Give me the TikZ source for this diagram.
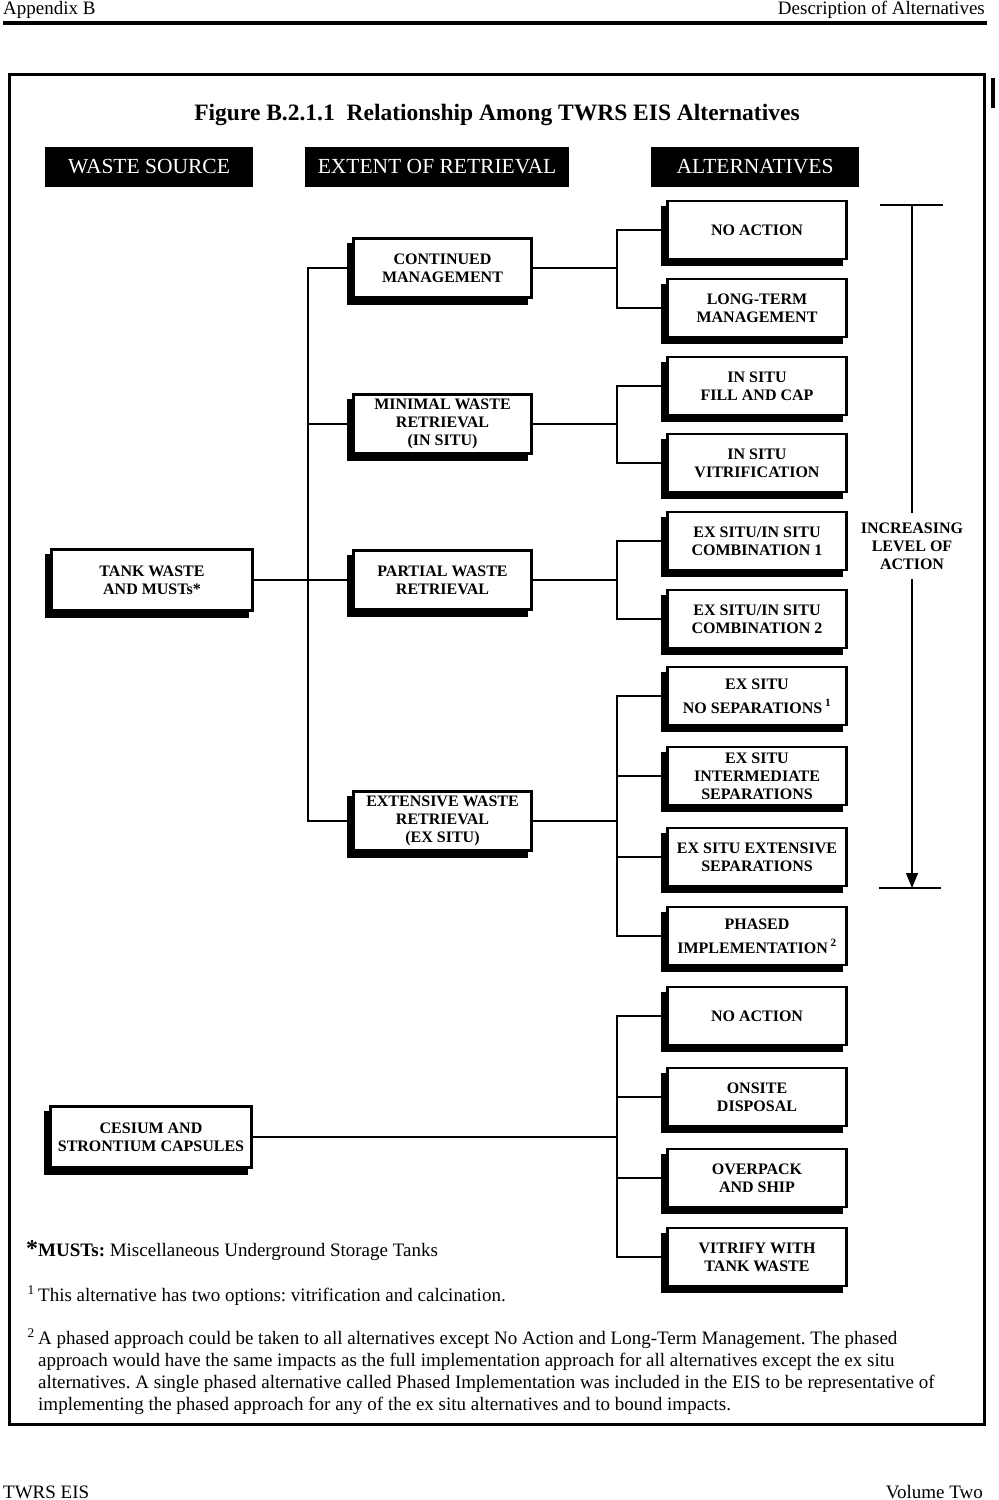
\documentclass[tikz,border=0pt]{standalone}
\usepackage{fontspec}
\setmainfont{Liberation Serif}
\usetikzlibrary{shadows,arrows.meta}
\frenchspacing
\begin{document}
\begin{tikzpicture}[x=1pt,y=-1pt,
  boxbase/.style={draw, line width=2.6pt, fill=white, align=center, inner sep=0pt,
    font=\fontsize{16}{18}\selectfont\bfseries,
    general shadow={fill=black, draw=black, line width=2.6pt, shadow xshift=-5pt, shadow yshift=-6pt}},
  altbox/.style={boxbase, minimum width=179pt, minimum height=58pt},
  retbox/.style={boxbase, minimum width=178pt, minimum height=59pt},
  srcbox/.style={boxbase, minimum width=201pt, minimum height=61pt},
  hdrbox/.style={fill=black, text=white, inner sep=0pt, minimum height=40pt,
    font=\fontsize{21.5}{24}\selectfont},
  conn/.style={line width=2.4pt, line cap=rect, line join=miter},
  thinln/.style={line width=1.2pt},
  pagetxt/.style={inner sep=0pt, font=\fontsize{19}{22}\selectfont},
]
\useasboundingbox (0,0) rectangle (999,1500);
% page header and footer
\node[pagetxt, anchor=base west] (ph1) at (3,14) {Appendix B};
\node[pagetxt, anchor=base east] (ph2) at (985,14) {Description of Alternatives};
\fill (3,21) rectangle (987,25);
\node[pagetxt, anchor=base west] (pf1) at (3,1498) {TWRS EIS};
\node[pagetxt, anchor=base east] (pf2) at (983,1498) {Volume Two};
% frame
\draw[line width=3pt] (9,74) rectangle (984,1424);
\fill (991,78) rectangle (995,108);
% title
\node[inner sep=0pt, font=\fontsize{23.5}{26}\selectfont\bfseries] (title) at (497,115)
  {Figure B.2.1.1\ \ Relationship Among TWRS EIS Alternatives};
% column headers
\node[hdrbox, minimum width=208pt] (h1) at (149,167) {WASTE SOURCE};
\node[hdrbox, minimum width=264pt] (h2) at (437,167) {EXTENT OF RETRIEVAL};
\node[hdrbox, minimum width=208pt] (h3) at (755,167) {ALTERNATIVES};
% sources
\node[srcbox] (tank) at (152,580) {TANK WASTE\\AND MUSTs*};
\node[srcbox] (cs) at (151,1137) {CESIUM AND\\STRONTIUM CAPSULES};
% retrieval
\node[retbox] (cm) at (442.5,268) {CONTINUED\\MANAGEMENT};
\node[retbox] (mw) at (442.5,424) {MINIMAL WASTE\\RETRIEVAL\\(IN SITU)};
\node[retbox] (pw) at (442.5,580) {PARTIAL WASTE\\RETRIEVAL};
\node[retbox] (ew) at (442.5,821) {EXTENSIVE WASTE\\RETRIEVAL\\(EX SITU)};
% alternatives
\node[altbox] (a1) at (757,230) {NO ACTION};
\node[altbox] (a2) at (757,308) {LONG-TERM\\MANAGEMENT};
\node[altbox] (a3) at (757,386) {IN SITU\\FILL AND CAP};
\node[altbox] (a4) at (757,463) {IN SITU\\VITRIFICATION};
\node[altbox] (a5) at (757,541) {EX SITU/IN SITU\\COMBINATION 1};
\node[altbox] (a6) at (757,619) {EX SITU/IN SITU\\COMBINATION 2};
\node[altbox] (a7) at (757,696) {EX SITU\\[6pt]NO SEPARATIONS\,\textsuperscript{1}};
\node[altbox] (a8) at (757,776) {EX SITU\\INTERMEDIATE\\SEPARATIONS};
\node[altbox] (a9) at (757,857) {EX SITU EXTENSIVE\\SEPARATIONS};
\node[altbox] (a10) at (757,936) {PHASED\\[6pt]IMPLEMENTATION\,\textsuperscript{2}};
\node[altbox] (c1) at (757,1016) {NO ACTION};
\node[altbox] (c2) at (757,1097) {ONSITE\\DISPOSAL};
\node[altbox] (c3) at (757,1178) {OVERPACK\\AND SHIP};
\node[altbox] (c4) at (757,1257) {VITRIFY WITH\\TANK WASTE};
% bus coordinates
\coordinate (lb) at (308,0);
\coordinate (rb) at (617,0);
% connectors: source to retrieval
\draw[conn] (tank.east) -- (pw.west);
\draw[conn] (cm.west) -- (cm.west -| lb) -- (ew.west -| lb) -- (ew.west);
\draw[conn] (mw.west) -- (mw.west -| lb);
% retrieval to alternatives
\draw[conn] (cm.east) -- (cm.east -| rb);
\draw[conn] (a1.west) -- (a1.west -| rb) -- (a2.west -| rb) -- (a2.west);
\draw[conn] (mw.east) -- (mw.east -| rb);
\draw[conn] (a3.west) -- (a3.west -| rb) -- (a4.west -| rb) -- (a4.west);
\draw[conn] (pw.east) -- (pw.east -| rb);
\draw[conn] (a5.west) -- (a5.west -| rb) -- (a6.west -| rb) -- (a6.west);
\draw[conn] (ew.east) -- (ew.east -| rb);
\draw[conn] (a7.west) -- (a7.west -| rb) -- (a10.west -| rb) -- (a10.west);
\draw[conn] (a8.west) -- (a8.west -| rb);
\draw[conn] (a9.west) -- (a9.west -| rb);
% capsules
\draw[conn] (cs.east) -- (cs.east -| rb);
\draw[conn] (c1.west) -- (c1.west -| rb) -- (c4.west -| rb) -- (c4.west);
\draw[conn] (c2.west) -- (c2.west -| rb);
\draw[conn] (c3.west) -- (c3.west -| rb);
% increasing level of action arrow
\coordinate (at) at (912,205);
\coordinate (ab) at (912,888);
\coordinate (tl) at (880,205);
\coordinate (tr) at (943,205);
\coordinate (bl) at (879,888);
\coordinate (br) at (941,888);
\draw[thinln] (tl) -- (tr);
\draw[thinln] (bl) -- (br);
\draw[thinln, -{Triangle[width=12pt,length=15pt]}] (at) -- (ab);
\node[fill=white, inner xsep=1pt, inner ysep=10pt, align=center,
  font=\fontsize{16}{18}\selectfont\bfseries] (lvl) at (912,546)
  {INCREASING\\LEVEL OF\\ACTION};
% footnotes
\node[pagetxt, anchor=base west] (fn0) at (26,1256)
  {{\bfseries\fontsize{24}{24}\selectfont*}\textbf{MUSTs:} Miscellaneous Underground Storage Tanks};
\node[pagetxt, anchor=base east] (fn1m) at (35,1301) {\textsuperscript{1}};
\node[pagetxt, anchor=base west] (fn1) at (38,1301) {This alternative has two options: vitrification and calcination.};
\node[pagetxt, anchor=base east] (fn2m) at (35,1344) {\textsuperscript{2}};
\node[pagetxt, anchor=base west] (fn2a) at (38,1344) {A phased approach could be taken to all alternatives except No Action and Long-Term Management. The phased};
\node[pagetxt, anchor=base west] (fn2b) at (38,1366) {approach would have the same impacts as the full implementation approach for all alternatives except the ex situ};
\node[pagetxt, anchor=base west] (fn2c) at (38,1388) {alternatives. A single phased alternative called Phased Implementation was included in the EIS to be representative of};
\node[pagetxt, anchor=base west] (fn2d) at (38,1410) {implementing the phased approach for any of the ex situ alternatives and to bound impacts.};
\end{tikzpicture}
\end{document}
